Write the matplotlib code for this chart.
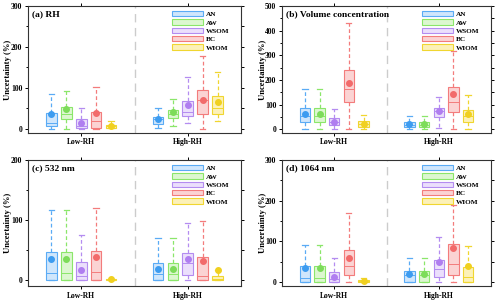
import matplotlib
matplotlib.use("Agg")
import matplotlib.pyplot as plt
from matplotlib.patches import Patch
from matplotlib.ticker import MultipleLocator

plt.rcParams["font.family"] = ["Liberation Serif", "DejaVu Serif"]
plt.rcParams["font.weight"] = "bold"

species = ["AN", "AW", "WSOM", "BC", "WIOM"]
groups = ["Low-RH", "High-RH"]
edge_colors = ["#5aabf5", "#8be66a", "#b48cf0", "#f37c7c", "#f0d630"]
fill_colors = ["#cfe6fc", "#dcf7d0", "#ebdffc", "#fbd3d3", "#fcf1b8"]
mean_colors = ["#3d9cf0", "#7ddc5a", "#b07ef0", "#f26b6b", "#f0d020"]

# per box: (whisker low, q1, median, q3, whisker high, mean)
rh_low = [(0, 6, 15, 38, 86, 35), (0, 25, 35, 53, 92, 48), (0, 2, 8, 23, 52, 15),
          (0, 2, 20, 41, 101, 39), (2, 3, 6, 10, 20, 6)]
rh_high = [(3, 12, 23, 29, 50, 24), (6, 27, 37, 47, 72, 40), (13, 31, 42, 69, 127, 57),
           (0, 36, 71, 95, 178, 70), (19, 36, 52, 79, 138, 66)]
vol_low = [(0, 31, 54, 85, 165, 64), (0, 31, 55, 85, 165, 64), (0, 16, 31, 47, 84, 31),
           (0, 112, 162, 240, 432, 189), (0, 10, 20, 34, 60, 23)]
vol_high = [(0, 10, 19, 31, 54, 20), (0, 10, 19, 31, 54, 20), (7, 51, 73, 85, 132, 76),
            (0, 72, 111, 172, 319, 142), (0, 31, 54, 77, 138, 61)]
w532_low = [(0, 0, 12, 47, 117, 35), (0, 0, 12, 47, 117, 35), (0, 0, 7, 30, 75, 16),
            (0, 0, 13, 49, 120, 39), (0, 0, 1, 1.5, 2, 1)]
w532_high = [(0, 0, 10, 29, 70, 19), (0, 0, 10, 29, 70, 19), (0, 9, 28, 45, 95, 35),
             (0, 0, 7, 39, 98, 32), (0, 0, 1, 6, 17, 17)]
w1064_low = [(0, 0, 9, 38, 91, 34), (0, 0, 9, 38, 91, 34), (0, 0, 7, 25, 60, 13),
             (0, 17, 39, 79, 169, 58), (0, 0, 2, 5, 10, 2)]
w1064_high = [(0, 1, 16, 27, 58, 20), (0, 1, 16, 27, 58, 20), (0, 12, 33, 54, 110, 50),
              (0, 17, 43, 93, 189, 83), (0, 1, 11, 37, 89, 39)]

panels = [
    ("(a) RH", [rh_low, rh_high], (-10, 300)),
    ("(b) Volume concentration", [vol_low, vol_high], (-14, 500)),
    ("(c) 532 nm", [w532_low, w532_high], (-10, 200)),
    ("(d) 1064 nm", [w1064_low, w1064_high], (-10, 300)),
]
rects = [
    [0.056, 0.56, 0.426, 0.42],
    [0.564, 0.56, 0.418, 0.42],
    [0.056, 0.053, 0.426, 0.417],
    [0.564, 0.053, 0.418, 0.417],
]

offsets = [-0.28, -0.14, 0.0, 0.14, 0.28]
centers = [0.5, 1.5]

fig = plt.figure(figsize=(5.0, 3.02), dpi=100)
for (title, data, ylim), rect in zip(panels, rects):
    ax = fig.add_axes(rect)
    for g, c in enumerate(centers):
        for k in range(5):
            lo, q1, med, q3, hi, mean = data[g][k]
            st = dict(whislo=lo, q1=q1, med=med, q3=q3, whishi=hi, mean=mean, fliers=[])
            ec = edge_colors[k]
            ax.bxp([st], positions=[c + offsets[k]], widths=0.1, capwidths=0.05,
                   patch_artist=True, showmeans=True, showfliers=False,
                   boxprops=dict(facecolor=fill_colors[k], edgecolor=ec, lw=0.8),
                   whiskerprops=dict(color=ec, lw=0.9, ls=(0, (3, 2))),
                   capprops=dict(color=ec, lw=0.9),
                   medianprops=dict(color=ec, lw=0.7),
                   meanprops=dict(marker="o", markerfacecolor=mean_colors[k],
                                  markeredgecolor=mean_colors[k], markersize=4))
    ax.axvline(1.0, color="#cccccc", lw=1.0, ls=(0, (6, 4)))
    ax.set_xlim(0, 2)
    ax.set_ylim(*ylim)
    ax.set_xticks(centers)
    ax.set_xticklabels(groups)
    ax.yaxis.set_major_locator(MultipleLocator(100))
    ax.yaxis.set_minor_locator(MultipleLocator(50))
    ax.tick_params(axis="both", which="both", direction="out", labelsize=5.5,
                   top=True, right=True, length=2.5, width=0.7, pad=1.5)
    ax.tick_params(axis="y", which="minor", length=1.8)
    for s in ax.spines.values():
        s.set_linewidth(0.8)
        s.set_color("#333333")
    ax.set_ylabel("Uncertainty (%)", fontsize=6.2, fontweight="bold")
    ax.yaxis.set_label_coords(-0.074, 0.5)
    ax.text(0.02, 0.97, title, transform=ax.transAxes, ha="left", va="top",
            fontsize=6.8, fontweight="bold")
    handles = [Patch(facecolor=fill_colors[k], edgecolor=edge_colors[k], lw=0.8)
               for k in range(5)]
    ax.legend(handles, species, loc="upper right", frameon=False, fontsize=5.2,
              handlelength=4.3, handleheight=0.75, labelspacing=0.3,
              handletextpad=0.4, borderaxespad=0.3, bbox_to_anchor=(0.97, 1.0))

fig.savefig("out.png", dpi=100)
